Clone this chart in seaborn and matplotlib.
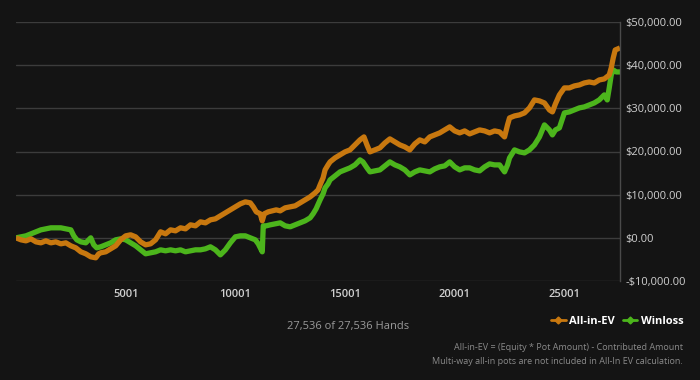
import numpy as np
import pandas as pd
import matplotlib
matplotlib.use("Agg")
import matplotlib.pyplot as plt
from matplotlib.lines import Line2D
import seaborn as sns

ev_hands = [1, 227, 455, 682, 909, 1136, 1364, 1591, 1818, 2045, 2273, 2500, 2727, 2955, 3182, 3409,
            3636, 3773, 3864, 4091, 4318, 4545, 4773, 5000, 5227, 5455, 5682, 5909, 6136, 6364, 6591,
            6818, 7045, 7273, 7500, 7727, 7955, 8182, 8409, 8636, 8864, 9091, 9318, 9545, 9773, 10000,
            10227, 10455, 10682, 10818, 10955, 11136, 11227, 11318, 11500, 11682, 11864, 12045, 12273,
            12500, 12727, 12955, 13182, 13409, 13636, 13773, 13864, 14000, 14091, 14227, 14318, 14545,
            14773, 15000, 15227, 15455, 15682, 15864, 16000, 16136, 16364, 16591, 16818, 17045, 17273,
            17500, 17727, 17955, 18182, 18409, 18636, 18864, 19091, 19318, 19545, 19773, 20000, 20227,
            20455, 20682, 20909, 21136, 21364, 21591, 21818, 22045, 22273, 22409, 22500, 22727, 22955,
            23182, 23409, 23636, 23864, 24091, 24318, 24455, 24591, 24773, 25000, 25227, 25455, 25682,
            25909, 26136, 26364, 26591, 26818, 27045, 27136, 27227, 27318, 27536]
ev_values = [0, -460, -700, -230, -930, -1160, -700, -1160, -930, -1390, -1160, -1850, -2320, -3240,
             -3700, -4400, -4630, -3700, -3470, -3240, -2550, -1850, -460, 460, 700, 230, -930, -1620,
             -1390, -460, 1390, 930, 1850, 1620, 2320, 2080, 3010, 2780, 3700, 3470, 4170, 4400, 5090,
             5790, 6480, 7180, 7870, 8330, 8100, 7180, 6020, 5560, 3940, 5560, 6020, 6250, 6480, 6250,
             6950, 7180, 7410, 8100, 8800, 9490, 10420, 11110, 12270, 13890, 15740, 16900, 17590, 18520,
             19220, 19910, 20370, 21530, 22690, 23380, 21530, 19910, 20370, 20840, 21990, 22920, 22220,
             21530, 21070, 20370, 21760, 22690, 22220, 23380, 23850, 24310, 25000, 25700, 24770, 24310,
             24770, 24080, 24540, 25000, 24770, 24310, 24770, 24540, 23380, 26160, 27780, 28240, 28480,
             28940, 30100, 31950, 31720, 31250, 29630, 29170, 31020, 33110, 34730, 34730, 35190, 35420,
             35880, 36110, 35880, 36580, 36810, 37730, 39360, 41670, 43520, 43990]

wl_hands = [1, 227, 455, 682, 909, 1136, 1364, 1591, 1818, 2045, 2273, 2500, 2636, 2773, 2955, 3182,
            3318, 3409, 3545, 3682, 3864, 4091, 4318, 4545, 4773, 5000, 5227, 5455, 5682, 5909, 6136,
            6364, 6591, 6818, 7045, 7273, 7500, 7727, 7955, 8182, 8409, 8636, 8864, 9091, 9318, 9545,
            9773, 10000, 10227, 10455, 10682, 10909, 11045, 11136, 11227, 11273, 11409, 11591, 11818,
            12045, 12273, 12500, 12727, 12955, 13182, 13409, 13545, 13682, 13864, 14000, 14091, 14227,
            14318, 14545, 14773, 15000, 15227, 15455, 15682, 15818, 16000, 16136, 16364, 16591, 16818,
            17045, 17273, 17500, 17727, 17955, 18182, 18409, 18636, 18864, 19091, 19318, 19545, 19773,
            20000, 20227, 20455, 20682, 20909, 21136, 21364, 21591, 21818, 22045, 22273, 22409, 22500,
            22727, 22955, 23182, 23409, 23636, 23864, 24091, 24318, 24455, 24591, 24773, 25000, 25227,
            25455, 25682, 25909, 26136, 26364, 26591, 26818, 26955, 27045, 27136, 27227, 27364, 27536]
wl_values = [0, 230, 460, 930, 1390, 1850, 2080, 2320, 2320, 2320, 2080, 1850, 460, -460, -930, -1160,
             -460, 0, -1620, -2320, -2080, -1620, -1160, -460, -230, -460, -1160, -1850, -2780, -3700,
             -3470, -3240, -2780, -3010, -2780, -3010, -2780, -3240, -3010, -2780, -2780, -2550, -2080,
             -2780, -3940, -2780, -1160, 230, 460, 460, 0, -460, -1390, -2320, -3240, 2780, 2780, 3010,
             3240, 3470, 2780, 2550, 3010, 3470, 3940, 4630, 5560, 6710, 8800, 10190, 11580, 12500,
             13430, 14350, 15280, 15740, 16210, 16900, 18060, 17590, 16210, 15280, 15510, 15740, 16670,
             17590, 16900, 16440, 15740, 14590, 15280, 15740, 15510, 15280, 15970, 16440, 16670, 17590,
             16440, 15740, 16210, 16210, 15740, 15510, 16440, 17130, 16900, 16900, 15280, 16900, 18520,
             20370, 19910, 19680, 20370, 21530, 23380, 26160, 25000, 23850, 25000, 25470, 28940, 29170,
             29630, 30100, 30330, 30790, 31250, 31950, 33110, 31950, 34730, 37730, 38890, 38430, 38430]

series_names = ["All-in-EV", "Winloss"]
x_ticks = [5001, 10001, 15001, 20001, 25001]
y_ticks = [-10000, 0, 10000, 20000, 30000, 40000, 50000]
total_hands = 27536

colors = {"All-in-EV": "#c8780f", "Winloss": "#4cb51c"}
bg = "#141414"

sns.set_theme(style="dark")
plt.rcParams["font.family"] = ["Open Sans", "DejaVu Sans"]

df = pd.concat([
    pd.DataFrame({"hand": ev_hands, "value": ev_values, "series": series_names[0]}),
    pd.DataFrame({"hand": wl_hands, "value": wl_values, "series": series_names[1]}),
])

fig = plt.figure(figsize=(7, 3.8), dpi=100, facecolor=bg)
ax = fig.add_axes([16 / 700, 1 - 281 / 380, (620 - 16) / 700, (281 - 22) / 380])
ax.set_facecolor(bg)

sns.lineplot(data=df, x="hand", y="value", hue="series", hue_order=["Winloss", "All-in-EV"],
             palette=colors, linewidth=3.8, legend=False, ax=ax, estimator=None, sort=False,
             solid_joinstyle="round", solid_capstyle="butt")

ax.set_xlim(1, total_hands)
ax.set_ylim(-10000, 50000)
ax.set_xticks(x_ticks)
ax.set_xticklabels([str(t) for t in x_ticks], color="#d0d0d0", fontsize=8, fontweight="semibold")
ax.set_yticks(y_ticks)
ax.set_yticklabels([("-$" if t < 0 else "$") + f"{abs(t):,.2f}" for t in y_ticks],
                   color="#d0d0d0", fontsize=8)
ax.yaxis.tick_right()
ax.tick_params(axis="both", length=0, pad=4)
ax.tick_params(axis="x", pad=6)
ax.set_xlabel("")
ax.set_ylabel("")
ax.grid(False)
for t in y_ticks:
    ax.axhline(t, color="#3c3c3c", linewidth=1, zorder=0)
for s in ["top", "left", "bottom"]:
    ax.spines[s].set_visible(False)
ax.spines["right"].set_visible(True)
ax.spines["right"].set_color("#4a4a4a")
ax.spines["right"].set_linewidth(1)

handles = [Line2D([0], [0], color=colors[n], lw=2, marker="D", markersize=3.5) for n in series_names]
leg = fig.legend(handles, series_names, loc="center right", bbox_to_anchor=(0.977, 1 - 321 / 380),
                 ncol=2, frameon=False, handlelength=1.3, handletextpad=0.35,
                 columnspacing=0.7, labelcolor="white", prop={"weight": "bold", "size": 8},
                 borderaxespad=0, borderpad=0)

fig.text(0.497, 1 - 327 / 380, f"{total_hands:,} of {total_hands:,} Hands", ha="center", va="center",
         color="#9a9a9a", fontsize=8)
fig.text(683 / 700, 1 - 347 / 380, "All-in-EV = (Equity * Pot Amount) - Contributed Amount",
         ha="right", va="center", color="#8a8a8a", fontsize=6.5)
fig.text(683 / 700, 1 - 361 / 380, "Multi-way all-in pots are not included in All-In EV calculation.",
         ha="right", va="center", color="#8a8a8a", fontsize=6.5)

fig.savefig("out.png", dpi=100, facecolor=bg)
